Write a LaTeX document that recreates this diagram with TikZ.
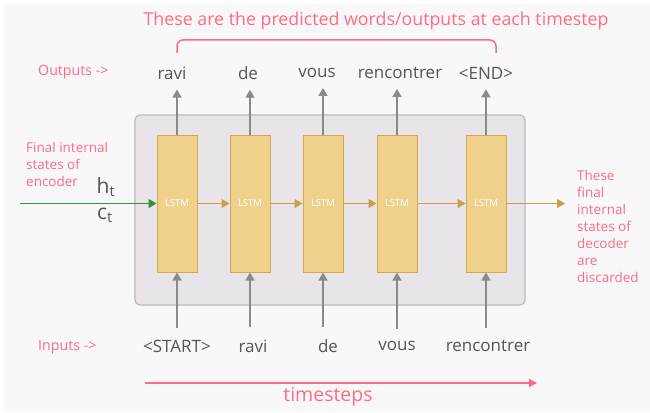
\documentclass[tikz,border=0pt]{standalone}
\usepackage{fontspec}
\setmainfont{Open Sans}
\usetikzlibrary{arrows.meta,positioning}
\definecolor{notepink}{HTML}{FF6B7F}
\definecolor{wordgray}{HTML}{555555}
\definecolor{lstmfill}{HTML}{F0D18C}
\definecolor{lstmedge}{HTML}{D3A94E}
\definecolor{goldarrow}{HTML}{C9A042}
\definecolor{boxfill}{HTML}{E8E4E9}
\definecolor{boxedge}{HTML}{BDBABD}
\definecolor{stategreen}{HTML}{3C8C3C}
\definecolor{pagebg}{HTML}{F8F8FB}
\definecolor{arrowgray}{HTML}{8A8A8A}
\tikzset{
lstmbox/.style={
  rectangle,
  minimum width=40pt,
  minimum height=137pt,
  inner sep=0pt,
  line width=1pt,
  draw=lstmedge,
  fill=lstmfill,
  text=white,
  font=\fontsize{9.5}{10}\selectfont,
  }
}
\tikzset{
wordstyle/.style={
  text=wordgray,
  font=\fontsize{17}{20}\selectfont,
  inner sep=0pt,
  }
}
\tikzset{
notestyle/.style={
  text=notepink,
  font=\fontsize{13.5}{17}\selectfont,
  align=left,
  inner sep=0pt,
  }
}
\tikzset{
grayline/.style={
  line width=1.5pt,
  draw=arrowgray,
  -{Triangle[length=8pt,width=9pt]}
  },
goldline/.style={
  line width=1.2pt,
  draw=goldarrow,
  -{Triangle[length=8pt,width=9pt]}
  }
}

\begin{document}
\begin{tikzpicture}[x=1pt,y=-1pt]
    \fill[white] (0,0) rectangle (650,412);
    \fill[pagebg] (4,4) rectangle (650,412);
    \useasboundingbox (0,0) rectangle (650,412);
    \draw[boxedge, fill=boxfill, line width=1.2pt, rounded corners=5pt] (135,115) rectangle (525,305);

    \node[lstmbox] (lstm1) at (177,203.5) {LSTM};
    \node[lstmbox] (lstm2) at (250,203.5) {LSTM};
    \node[lstmbox] (lstm3) at (323,203.5) {LSTM};
    \node[lstmbox] (lstm4) at (397,203.5) {LSTM};
    \node[lstmbox] (lstm5) at (486,203.5) {LSTM};

    % outputs
    \node[wordstyle] (out1) at (172,73) {ravi};
    \node[wordstyle] (out2) at (248,73) {de};
    \node[wordstyle] (out3) at (317,73) {vous};
    \node[wordstyle] (out4) at (400,73) {rencontrer};
    \node[wordstyle] (out5) at (486,73) {<END>};
    \node[notestyle, anchor=west, font=\fontsize{14.2}{17}\selectfont] (outlbl) at (38,72) {Outputs ->};

    % inputs
    \node[wordstyle] (in1) at (177,346) {<START>};
    \node[wordstyle] (in2) at (253,346) {ravi};
    \node[wordstyle] (in3) at (328,346) {de};
    \node[wordstyle] (in4) at (397,346) {vous};
    \node[wordstyle] (in5) at (488,346) {rencontrer};
    \node[notestyle, anchor=west, font=\fontsize{14.2}{17}\selectfont] (inlbl) at (38,347) {Inputs ->};

    \node[notestyle, font=\fontsize{17.8}{20}\selectfont] (title) at (376,21) {These are the predicted words/outputs at each timestep};
    \draw[notepink, line width=1.5pt, rounded corners=6pt] (177,53) -- (177,40) -- (496,40) -- (496,53);

    \node[notestyle] (enclbl) at (26,164) [anchor=west] {Final internal\\states of\\encoder};
    \node[wordstyle, font=\fontsize{21}{24}\selectfont] (ht) at (106,187) {h\textsubscript{t}};
    \node[wordstyle, font=\fontsize{21}{24}\selectfont] (ct) at (105,215) {c\textsubscript{t}};
    \node[notestyle] (declbl) at (577,226) [anchor=west] {These\\final\\internal\\states of\\decoder\\are\\discarded};

    \coordinate (enc) at (20,203.5);
    \draw[goldline, draw=stategreen] (enc) -- (lstm1.west);
    \draw[goldline] (lstm1) -- (lstm2);
    \draw[goldline] (lstm2) -- (lstm3);
    \draw[goldline] (lstm3) -- (lstm4);
    \draw[goldline] (lstm4) -- (lstm5);
    \draw[goldline, shorten >=12pt] (lstm5.east) -- (lstm5.east -| declbl.west);

    \draw[grayline, shorten >=10pt] (lstm1.north) -- (lstm1.north |- out1.south);
    \draw[grayline, shorten >=10pt] (lstm2.north) -- (lstm2.north |- out2.south);
    \draw[grayline, shorten >=10pt] (lstm3.north) -- (lstm3.north |- out3.south);
    \draw[grayline, shorten >=10pt] (lstm4.north) -- (lstm4.north |- out4.south);
    \draw[grayline, shorten >=10pt] (lstm5.north) -- (lstm5.north |- out5.south);

    \draw[grayline, shorten <=12pt] (lstm1.south |- in1.north) -- (lstm1.south);
    \draw[grayline, shorten <=12pt] (lstm2.south |- in2.north) -- (lstm2.south);
    \draw[grayline, shorten <=12pt] (lstm3.south |- in3.north) -- (lstm3.south);
    \draw[grayline, shorten <=12pt] (lstm4.south |- in4.north) -- (lstm4.south);
    \draw[grayline, shorten <=12pt] (lstm5.south |- in5.north) -- (lstm5.south);

    \coordinate (tstart) at (145,383);
    \coordinate (tend) at (537,383);
    \draw[line width=1.5pt, draw=notepink, -{Triangle[length=8pt,width=8pt]}] (tstart) -- (tend);
    \node[notestyle, font=\fontsize{19.5}{22}\selectfont] (tslbl) at (328,397) {timesteps};
\end{tikzpicture}
\end{document}
